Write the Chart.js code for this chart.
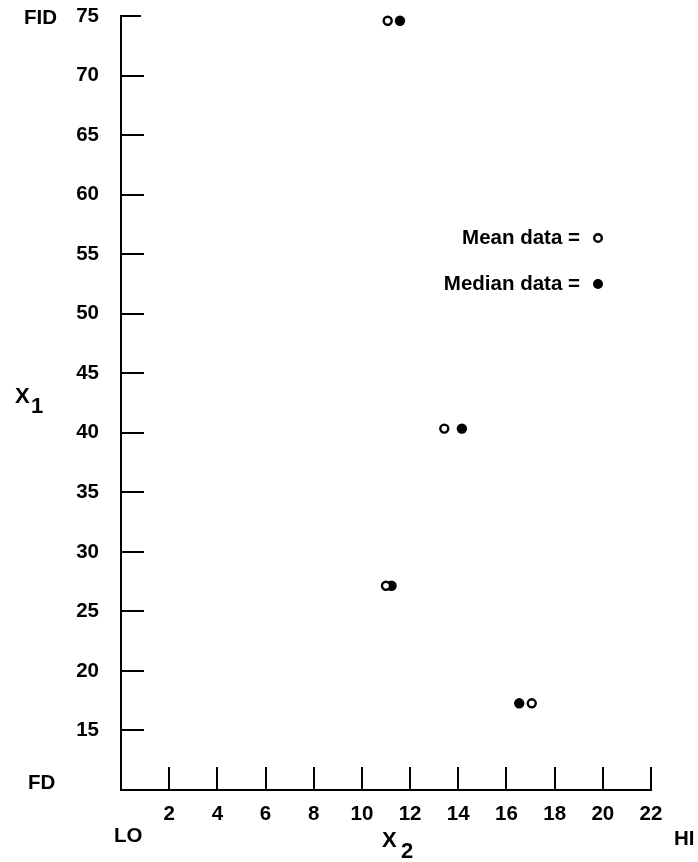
<!DOCTYPE html>
<html>
<head>
<meta charset="utf-8">
<script src="https://cdn.jsdelivr.net/npm/chart.js@4/dist/chart.umd.min.js"></script>
<style>
  html, body { margin: 0; padding: 0; background: #fff; }
  #wrap { width: 698px; height: 862px; }
</style>
</head>
<body>
<div id="wrap"><canvas id="c" width="698" height="862"></canvas></div>
<script>
// ---- data ----
const meanX   = [11.07, 13.42, 11.00, 17.05];
const meanY   = [74.6, 40.35, 27.15, 17.28];
const medianX = [11.58, 14.15, 11.23, 16.53];
const medianY = [74.6, 40.35, 27.15, 17.28];
const xTickLabels = [2, 4, 6, 8, 10, 12, 14, 16, 18, 20, 22];
const yTickLabels = [15, 20, 25, 30, 35, 40, 45, 50, 55, 60, 65, 70, 75];
const legendLabels = ['Mean data =', 'Median data ='];

const FONT = '"Liberation Sans", Arial, Helvetica, sans-serif';
const FS = 20.5;

const meanPts = meanX.map((x, i) => ({ x: x, y: meanY[i] }));
const medianPts = medianX.map((x, i) => ({ x: x, y: medianY[i] }));

const decor = {
  id: 'decor',
  afterDraw(chart) {
    const ctx = chart.ctx;
    const xs = chart.scales.x, ys = chart.scales.y;
    const area = chart.chartArea;
    ctx.save();
    ctx.strokeStyle = '#000';
    ctx.lineWidth = 2;
    // inward tick marks
    xTickLabels.forEach(v => {
      const px = Math.round(xs.getPixelForValue(v));
      ctx.beginPath();
      ctx.moveTo(px, area.bottom);
      ctx.lineTo(px, area.bottom - 23);
      ctx.stroke();
    });
    yTickLabels.forEach(v => {
      const py = Math.round(ys.getPixelForValue(v));
      ctx.beginPath();
      ctx.moveTo(area.left, py);
      ctx.lineTo(area.left + (v === 75 ? 20 : 23), py);
      ctx.stroke();
    });

    ctx.fillStyle = '#000';
    ctx.font = 'bold ' + FS + 'px ' + FONT;
    ctx.textBaseline = 'middle';
    ctx.textAlign = 'left';
    ctx.fillText('FID', 24, 18);
    ctx.fillText('FD', 28, 783);
    ctx.fillText('LO', 114, 836);
    ctx.fillText('HI', 674, 839);

    // axis titles with subscripts
    ctx.font = 'bold 22px ' + FONT;
    ctx.fillText('X', 15, 397);
    ctx.fillText('1', 31, 407);
    ctx.fillText('X', 382, 841);
    ctx.fillText('2', 401, 852);

    // legend
    ctx.font = 'bold ' + FS + 'px ' + FONT;
    ctx.textAlign = 'right';
    ctx.fillText(legendLabels[0], 580, 238);
    ctx.fillText(legendLabels[1], 580, 284);
    ctx.beginPath();
    ctx.arc(598, 238, 3.8, 0, Math.PI * 2);
    ctx.lineWidth = 2.4;
    ctx.stroke();
    ctx.beginPath();
    ctx.arc(598, 284, 5, 0, Math.PI * 2);
    ctx.fill();
    ctx.restore();
  }
};

new Chart(document.getElementById('c'), {
  type: 'scatter',
  data: {
    datasets: [
      {
        label: 'Mean data',
        data: meanPts,
        pointStyle: 'circle',
        pointRadius: 4,
        pointBorderWidth: 2.4,
        borderColor: '#000',
        backgroundColor: '#fff',
        pointBackgroundColor: '#fff',
        pointBorderColor: '#000'
      },
      {
        label: 'Median data',
        data: medianPts,
        pointStyle: 'circle',
        pointRadius: 5.2,
        pointBorderWidth: 0,
        borderColor: '#000',
        backgroundColor: '#000',
        pointBackgroundColor: '#000'
      }
    ]
  },
  options: {
    responsive: false,
    animation: false,
    devicePixelRatio: 1,
    clip: false,
    layout: { padding: { top: 16, right: 47, left: 0, bottom: 0 } },
    plugins: {
      legend: { display: false },
      tooltip: { enabled: false },
      title: { display: false }
    },
    scales: {
      x: {
        type: 'linear',
        min: 0,
        max: 22,
        afterBuildTicks: (axis) => { axis.ticks = xTickLabels.map(v => ({ value: v })); },
        afterFit: (scale) => { scale.height = 72; scale.paddingLeft = 0; scale.paddingRight = 0; },
        grid: { display: false, drawTicks: false },
        border: { display: true, color: '#000', width: 2 },
        ticks: {
          padding: 12,
          maxRotation: 0,
          autoSkip: false,
          color: '#000',
          font: { family: FONT, size: FS, weight: 'bold' }
        }
      },
      y: {
        type: 'linear',
        min: 10,
        max: 75,
        afterBuildTicks: (axis) => { axis.ticks = yTickLabels.map(v => ({ value: v })); },
        afterFit: (scale) => { scale.width = 121; scale.paddingTop = 0; scale.paddingBottom = 0; },
        grid: { display: false, drawTicks: false },
        border: { display: true, color: '#000', width: 2 },
        ticks: {
          padding: 22,
          autoSkip: false,
          color: '#000',
          font: { family: FONT, size: FS, weight: 'bold' }
        }
      }
    }
  },
  plugins: [decor]
});
</script>
</body>
</html>
